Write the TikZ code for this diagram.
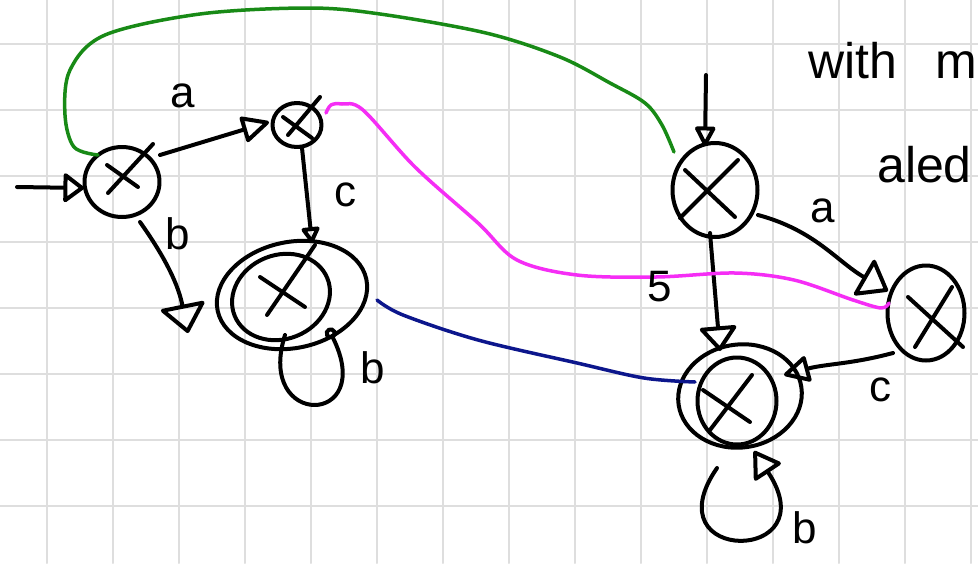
\documentclass[tikz,border=0pt]{standalone}
\usepackage{fontspec}
\setmainfont{Liberation Sans}
\usetikzlibrary{arrows.meta,shapes.geometric}
\definecolor{penGreen}{RGB}{24,138,22}
\definecolor{penPink}{RGB}{245,45,245}
\definecolor{penNavy}{RGB}{12,22,140}
\definecolor{gridGray}{RGB}{222,222,222}
\begin{document}
\begin{tikzpicture}[x=1pt,y=-1pt,
  line cap=round, line join=round,
  ink/.style={line width=4pt, black},
  st/.style={draw, ellipse, line width=4pt, inner sep=0pt, outer sep=0pt},
  xs/.style={line width=4pt},
  lbl/.style={font=\fontsize{44}{44}\selectfont, inner sep=0pt},
  note/.style={font=\fontsize{50}{50}\selectfont, inner sep=0pt},
  tri/.style 2 args={-{Triangle[open,length=#1,width=#2,round]}},
  gridline/.style={line width=2pt, gridGray},
  pen/.style={line width=3.5pt}
]
\useasboundingbox (0,0) rectangle (978,563);
\fill[white] (0,0) rectangle (978,563);
\clip (0,0) rectangle (978,563);

% squared paper
\foreach \gx in {47,113,...,971} \draw[gridline] (\gx,0) -- (\gx,563);
\foreach \gy in {44,110,...,506} \draw[gridline] (0,\gy) -- (978,\gy);

% states (left automaton)
\node[st, minimum width=75pt, minimum height=70pt] (q0) at (122,182) {};
\node[st, minimum width=49pt, minimum height=44pt] (q1) at (297,125) {};
\node[st, minimum width=152pt, minimum height=106pt, rotate=12] (q2) at (292,295) {};
\node[st, minimum width=100pt, minimum height=84pt, rotate=22] (q2i) at (281,297) {};

% states (right automaton)
\node[st, minimum width=85pt, minimum height=94pt] (q3) at (715,190) {};
\node[st, minimum width=77pt, minimum height=95pt] (q4) at (926,313) {};
\node[st, minimum width=124pt, minimum height=103pt, rotate=8] (q5) at (740,396) {};
\node[st, minimum width=79pt, minimum height=87pt] (q5i) at (737,401) {};

% crosses inside the states
\draw[xs, shift={(q0.center)}] (-14,11) -- (31,-38) (-15,-17) -- (16,5);
\draw[xs, shift={(q1.center)}] (-9,10) -- (23,-28) (-14,-8) -- (15,13);
\draw[xs, shift={(q2.center)}] (-25,20) -- (23,-50) (-32,-18) -- (13,12);
\draw[xs, shift={(q3.center)}] (-35,28) -- (23,-30) (-30,-20) -- (20,27);
\draw[xs, shift={(q4.center)}] (-11,34) -- (26,-26) (-18,-16) -- (37,34);
\draw[xs, shift={(q5.center)}] (-30,34) -- (12,-21) (-37,-6) -- (10,26);

% free ends
\coordinate (s0) at (17,187);
\coordinate (d0) at (188,333);
\coordinate (s3) at (706,75);

% transitions, left automaton
\draw[ink, tri={22pt}{32pt}] (s0) -- ([shift={(-38,6)}]q0.center);
\draw[ink, tri={30pt}{28pt}] ([shift={(38,-27)}]q0.center) -- ([shift={(-28,-3)}]q1.center);
\draw[ink, tri={30pt}{48pt}] ([shift={(18,40)}]q0.center) to[bend left=12] (d0);
\draw[ink, tri={18pt}{20pt}] ([shift={(5,23)}]q1.center) -- ([shift={(20,-52)}]q2.center);
\draw[ink, -{Circle[open,length=12pt]}] ([shift={(-7,40)}]q2.center)
  .. controls +(-30,94) and +(50,99) .. ([shift={(36,33)}]q2.center);

% transitions, right automaton
\draw[ink, tri={22pt}{22pt}] (s3) -- ([shift={(-10,-44)}]q3.center);
\draw[ink, tri={30pt}{44pt}] ([shift={(43,25)}]q3.center) to[out=-15,in=150] ([shift={(-38,-22)}]q4.center);
\draw[ink, tri={26pt}{40pt}] ([shift={(-5,43)}]q3.center) -- ([shift={(-20,-45)}]q5.center);
\draw[ink, tri={28pt}{28pt}] ([shift={(-33,40)}]q4.center) to[out=195,in=15] ([shift={(44,-21)}]q5.center);
\draw[ink, tri={28pt}{34pt}] ([shift={(-23,72)}]q5.center)
  .. controls +(-67,97) and +(75,113) .. ([shift={(14,55)}]q5.center);

% links between the two automata
\coordinate (g0) at ([shift={(-24,-27)}]q0.center);
\coordinate (g1) at ([shift={(-41,-38)}]q3.center);
\draw[pen, penGreen] plot[smooth, tension=0.55] coordinates {(g0) (74,147) (65,115) (70,70) (105,35) (200,14) (308,8) (380,14) (486,33) (560,57) (610,83) (645,103) (662,125) (g1)};
\coordinate (m0) at ([shift={(29,-12)}]q1.center);
\coordinate (m1) at ([shift={(-37,-10)}]q4.center);
\draw[pen, penPink] plot[smooth, tension=0.55] coordinates {(m0) (331,105) (342,104) (363,110) (415,167) (478,223) (517,260) (577,275) (656,277) (735,273) (794,280) (853,300) (881,308) (m1)};
\coordinate (n0) at ([shift={(85,5)}]q2.center);
\coordinate (n1) at ([shift={(-45,-14)}]q5.center);
\draw[pen, penNavy] plot[smooth, tension=0.55] coordinates {(n0) (403,315) (478,340) (577,363) (644,378) (n1)};

% transition labels
\node[lbl] (la) at (183,96) {a};
\node[lbl] (lb) at (178,234) {b};
\node[lbl] (lc) at (345,195) {c};
\node[lbl] (lb2) at (373,368) {b};
\node[lbl] (la2) at (823,211) {a};
\node[lbl] (l5) at (660,287) {5};
\node[lbl] (lc2) at (880,390) {c};
\node[lbl] (lb3) at (805,528) {b};

% margin notes
\node[note, anchor=base west] (n1txt) at (808,78) {with\hspace{38pt}m};
\node[note, anchor=base west] (n2txt) at (877,182) {aled};
\end{tikzpicture}
\end{document}
